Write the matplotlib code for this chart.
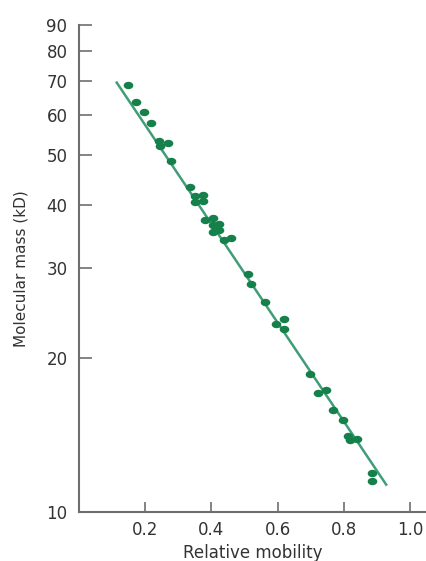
import numpy as np
import matplotlib
matplotlib.use("Agg")
import matplotlib.pyplot as plt
from matplotlib.ticker import FixedLocator, FixedFormatter, NullLocator

# values
mobility = [0.150, 0.172, 0.198, 0.218, 0.243, 0.268, 0.245, 0.278,
            0.337, 0.351, 0.376, 0.351, 0.374, 0.381, 0.406, 0.406,
            0.424, 0.406, 0.424, 0.439, 0.459, 0.512, 0.519, 0.562,
            0.595, 0.620, 0.620, 0.698, 0.723, 0.746, 0.768, 0.798,
            0.813, 0.818, 0.840, 0.884, 0.884]
mass_kd = [68.6, 63.5, 60.7, 57.8, 53.2, 52.8, 52.1, 48.8,
           43.4, 41.5, 41.8, 40.5, 40.7, 37.4, 37.7, 36.5,
           36.6, 35.4, 35.6, 34.1, 34.4, 29.2, 27.9, 25.8,
           23.3, 23.9, 22.8, 18.6, 17.1, 17.3, 15.8, 15.1,
           14.1, 13.8, 13.9, 11.9, 11.5]
# standard curve as drawn (end points)
line_mobility = [0.115, 0.927]
line_mass = [69.4, 11.3]
y_ticks = [10, 20, 30, 40, 50, 60, 70, 80, 90]
x_ticks = [0.2, 0.4, 0.6, 0.8, 1.0]
x_tick_labels = ["0.2", "0.4", "0.6", "0.8", "1.0"]

dot_color = "#16804a"
line_color = "#3f9e77"
axis_color = "#6e6e6e"
text_color = "#333333"

fig = plt.figure(figsize=(4.27, 5.61), dpi=100)
ax = fig.add_axes([0.184, 0.0879, 0.816, 0.8675])

ax.plot(line_mobility, line_mass, color=line_color, lw=1.8, zorder=2)

# slightly flattened dots
t = np.linspace(0, 2 * np.pi, 40)
ellipse = np.column_stack([1.3 * np.cos(t), np.sin(t)])
ax.scatter(mobility, mass_kd, marker=ellipse, s=48, color=dot_color,
           linewidths=0, zorder=3)

ax.set_yscale("log")
ax.set_xlim(0, 1.05)
ax.set_ylim(10, 90)
ax.yaxis.set_major_locator(FixedLocator(y_ticks))
ax.yaxis.set_major_formatter(FixedFormatter([str(v) for v in y_ticks]))
ax.yaxis.set_minor_locator(NullLocator())
ax.set_xticks(x_ticks)
ax.set_xticklabels(x_tick_labels)

for s in ["top", "right"]:
    ax.spines[s].set_visible(False)
for s in ["left", "bottom"]:
    ax.spines[s].set_color(axis_color)
    ax.spines[s].set_linewidth(1.5)

ax.tick_params(axis="y", direction="in", length=9, width=1.2,
               color=axis_color, labelsize=12, labelcolor=text_color, pad=8)
ax.tick_params(axis="x", direction="in", length=7, width=1.2,
               color=axis_color, labelsize=12, labelcolor=text_color, pad=7)

ax.set_xlabel("Relative mobility", fontsize=12, color=text_color, labelpad=3)
ax.set_ylabel("Molecular mass (kD)", fontsize=11, color=text_color, labelpad=13)

fig.savefig("out.png", dpi=100)
